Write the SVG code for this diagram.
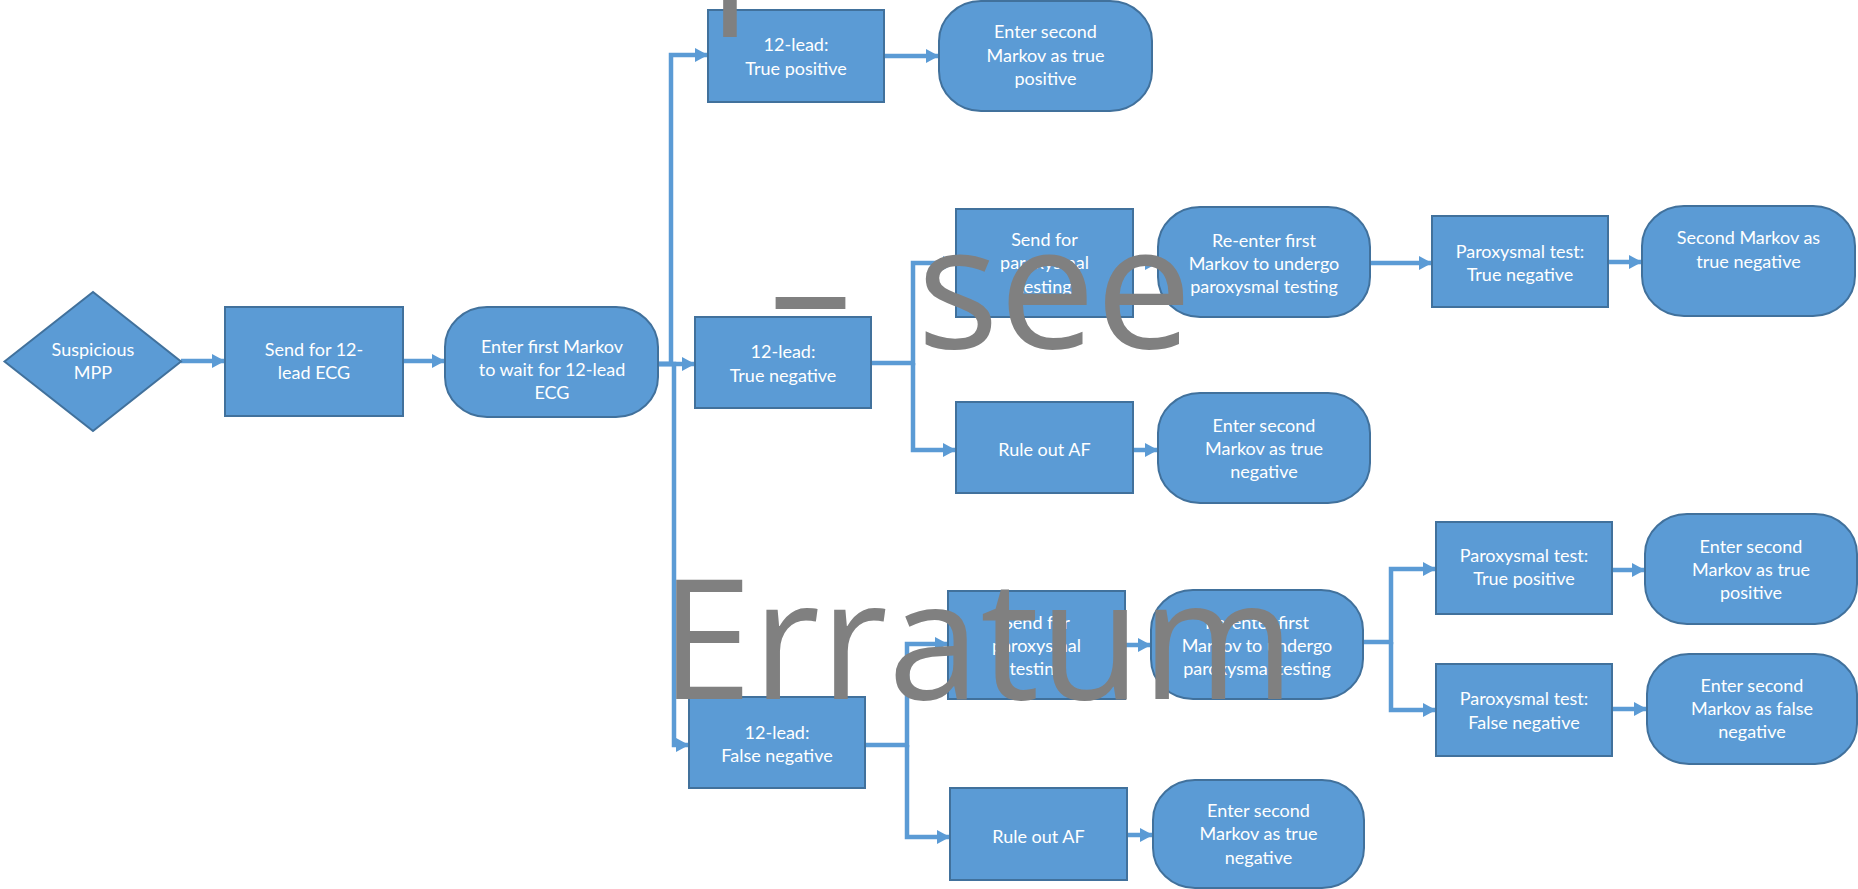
<svg xmlns="http://www.w3.org/2000/svg" width="1858" height="889" viewBox="0 0 1858 889">
  <style>
    .box { fill: #5B9BD5; stroke: #41719C; stroke-width: 2; }
    .lbl { fill: #FFFFFF; font-family: Lato, "Open Sans", sans-serif; font-size: 18px; text-anchor: middle; }
    .wire { fill: none; stroke: #5B9BD5; stroke-width: 4.5; marker-end: url(#head); }
    .stamp { fill: #808080; font-family: "Open Sans", "Noto Sans", sans-serif; font-size: 166px; }
  </style>
  <defs>
    <marker id="head" markerUnits="userSpaceOnUse" markerWidth="14" markerHeight="14" refX="13" refY="7" orient="auto">
      <path d="M0,0 L13,7 L0,14 Z" fill="#5B9BD5"/>
    </marker>
  </defs>
  <rect width="1858" height="889" fill="#FFFFFF"/>

  <!-- connectors -->
  <g id="connectors">
    <path class="wire" d="M181,361 H225"/>
    <path class="wire" d="M403,361 H445"/>
    <path class="wire" d="M658,364 H671 V55 H708"/>
    <path class="wire" d="M658,364 H695"/>
    <path class="wire" d="M658,364 H674 V745 H689"/>
    <path class="wire" d="M884,56 H939"/>
    <path class="wire" d="M871,363 H913 V263 H956"/>
    <path class="wire" d="M913,363 V450 H956"/>
    <path class="wire" d="M1133,263 H1158"/>
    <path class="wire" d="M1370,263 H1432"/>
    <path class="wire" d="M1608,262 H1642"/>
    <path class="wire" d="M1133,450 H1158"/>
    <path class="wire" d="M865,745 H907 V644 H948"/>
    <path class="wire" d="M907,745 V837 H950"/>
    <path class="wire" d="M1125,645 H1151"/>
    <path class="wire" d="M1363,642 H1391 V569 H1436"/>
    <path class="wire" d="M1391,642 V710 H1436"/>
    <path class="wire" d="M1612,570 H1645"/>
    <path class="wire" d="M1612,709 H1647"/>
    <path class="wire" d="M1127,835 H1153"/>
  </g>

  <!-- start decision -->
  <g id="n_mpp">
    <polygon class="box" points="4.5,361.5 93,292 181,361.5 93,431"/>
    <text class="lbl" x="93" y="356">Suspicious</text>
    <text class="lbl" x="93" y="379">MPP</text>
  </g>
  <g id="n_send12">
    <rect class="box" x="225" y="307" width="178" height="109"/>
    <text class="lbl" x="314" y="356">Send for 12-</text>
    <text class="lbl" x="314" y="379">lead ECG</text>
  </g>
  <g id="n_first">
    <rect class="box" x="445" y="307" width="213" height="110" rx="42" ry="40"/>
    <text class="lbl" x="552" y="353">Enter first Markov</text>
    <text class="lbl" x="552" y="376">to wait for 12-lead</text>
    <text class="lbl" x="552" y="399">ECG</text>
  </g>

  <!-- 12-lead true positive -->
  <g id="n_tp">
    <rect class="box" x="708" y="10" width="176" height="92"/>
    <text class="lbl" x="796" y="51">12-lead:</text>
    <text class="lbl" x="796" y="75">True positive</text>
  </g>
  <g id="n_tp_m2">
    <rect class="box" x="939" y="1" width="213" height="110" rx="42" ry="40"/>
    <text class="lbl" x="1045.5" y="38">Enter second</text>
    <text class="lbl" x="1045.5" y="62">Markov as true</text>
    <text class="lbl" x="1045.5" y="85">positive</text>
  </g>

  <!-- 12-lead true negative -->
  <g id="n_tn">
    <rect class="box" x="695" y="317" width="176" height="91"/>
    <text class="lbl" x="783" y="358">12-lead:</text>
    <text class="lbl" x="783" y="382">True negative</text>
  </g>
  <g id="n_tn_send">
    <rect class="box" x="956" y="209" width="177" height="108"/>
    <text class="lbl" x="1044.5" y="246">Send for</text>
    <text class="lbl" x="1044.5" y="269">paroxysmal</text>
    <text class="lbl" x="1044.5" y="293">testing</text>
  </g>
  <g id="n_tn_reenter">
    <rect class="box" x="1158" y="207" width="212" height="110" rx="42" ry="40"/>
    <text class="lbl" x="1264" y="247">Re-enter first</text>
    <text class="lbl" x="1264" y="270">Markov to undergo</text>
    <text class="lbl" x="1264" y="293">paroxysmal testing</text>
  </g>
  <g id="n_tn_ptn">
    <rect class="box" x="1432" y="216" width="176" height="91"/>
    <text class="lbl" x="1520" y="258">Paroxysmal test:</text>
    <text class="lbl" x="1520" y="281">True negative</text>
  </g>
  <g id="n_tn_m2">
    <rect class="box" x="1642" y="206" width="213" height="110" rx="42" ry="40"/>
    <text class="lbl" x="1748.5" y="244">Second Markov as</text>
    <text class="lbl" x="1748.5" y="268">true negative</text>
  </g>
  <g id="n_tn_ruleout">
    <rect class="box" x="956" y="402" width="177" height="91"/>
    <text class="lbl" x="1044.5" y="456">Rule out AF</text>
  </g>
  <g id="n_tn_ro_m2">
    <rect class="box" x="1158" y="393" width="212" height="110" rx="42" ry="40"/>
    <text class="lbl" x="1264" y="432">Enter second</text>
    <text class="lbl" x="1264" y="455">Markov as true</text>
    <text class="lbl" x="1264" y="478">negative</text>
  </g>

  <!-- 12-lead false negative -->
  <g id="n_fn">
    <rect class="box" x="689" y="697" width="176" height="91"/>
    <text class="lbl" x="777" y="739">12-lead:</text>
    <text class="lbl" x="777" y="762">False negative</text>
  </g>
  <g id="n_fn_send">
    <rect class="box" x="948" y="591" width="177" height="108"/>
    <text class="lbl" x="1036.5" y="629">Send for</text>
    <text class="lbl" x="1036.5" y="652">paroxysmal</text>
    <text class="lbl" x="1036.5" y="675">testing</text>
  </g>
  <g id="n_fn_reenter">
    <rect class="box" x="1151" y="590" width="212" height="109" rx="42" ry="40"/>
    <text class="lbl" x="1257" y="629">Re-enter first</text>
    <text class="lbl" x="1257" y="652">Markov to undergo</text>
    <text class="lbl" x="1257" y="675">paroxysmal testing</text>
  </g>
  <g id="n_fn_ptp">
    <rect class="box" x="1436" y="522" width="176" height="92"/>
    <text class="lbl" x="1524" y="562">Paroxysmal test:</text>
    <text class="lbl" x="1524" y="585">True positive</text>
  </g>
  <g id="n_fn_ptp_m2">
    <rect class="box" x="1645" y="514" width="212" height="110" rx="42" ry="40"/>
    <text class="lbl" x="1751" y="553">Enter second</text>
    <text class="lbl" x="1751" y="576">Markov as true</text>
    <text class="lbl" x="1751" y="599">positive</text>
  </g>
  <g id="n_fn_pfn">
    <rect class="box" x="1436" y="664" width="176" height="92"/>
    <text class="lbl" x="1524" y="705">Paroxysmal test:</text>
    <text class="lbl" x="1524" y="729">False negative</text>
  </g>
  <g id="n_fn_pfn_m2">
    <rect class="box" x="1647" y="654" width="210" height="110" rx="42" ry="40"/>
    <text class="lbl" x="1752" y="692">Enter second</text>
    <text class="lbl" x="1752" y="715">Markov as false</text>
    <text class="lbl" x="1752" y="738">negative</text>
  </g>
  <g id="n_fn_ruleout">
    <rect class="box" x="950" y="788" width="177" height="92"/>
    <text class="lbl" x="1038.5" y="843">Rule out AF</text>
  </g>
  <g id="n_fn_ro_m2">
    <rect class="box" x="1153" y="780" width="211" height="108" rx="42" ry="40"/>
    <text class="lbl" x="1258.5" y="817">Enter second</text>
    <text class="lbl" x="1258.5" y="840">Markov as true</text>
    <text class="lbl" x="1258.5" y="864">negative</text>
  </g>

  <!-- stamped notice over the chart -->
  <g id="stamp">
    <text class="stamp" x="709" y="-3">p</text>
    <text class="stamp" x="769" y="348">–<tspan dx="65" font-size="172">see</tspan></text>
    <text class="stamp" x="660" y="699">Erratum</text>
  </g>
</svg>
